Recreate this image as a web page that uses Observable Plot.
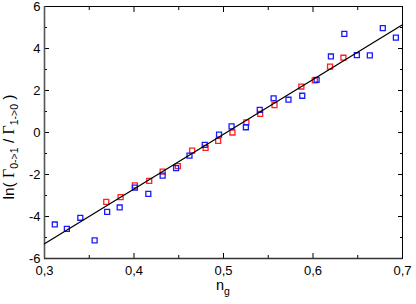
<!DOCTYPE html>
<html>
<head>
<meta charset="utf-8">
<script src="https://cdn.jsdelivr.net/npm/d3@7"></script>
<script src="https://cdn.jsdelivr.net/npm/@observablehq/plot@0.6"></script>
<style>
  html, body { margin: 0; padding: 0; background: #fff; }
</style>
</head>
<body>
<div id="chart"></div>
<script>
// ---- data ----
const blueNg = [0.3115, 0.325, 0.340, 0.356, 0.370, 0.384, 0.401, 0.416, 0.432, 0.447, 0.462, 0.479, 0.495, 0.509, 0.525, 0.5405, 0.556, 0.5726, 0.588, 0.604, 0.620, 0.635, 0.649, 0.6635, 0.678, 0.6926];
const blueLn = [-4.38, -4.59, -4.06, -5.14, -3.78, -3.57, -2.62, -2.92, -2.05, -1.70, -1.10, -0.59, -0.10, 0.29, 0.25, 1.08, 1.63, 1.56, 1.75, 2.51, 3.62, 4.70, 3.68, 3.67, 4.97, 4.52];
const redNg = [0.369, 0.385, 0.401, 0.417, 0.432, 0.449, 0.465, 0.480, 0.494, 0.510, 0.5256, 0.541, 0.557, 0.587, 0.602, 0.619, 0.634];
const redLn = [-3.30, -3.08, -2.52, -2.30, -1.86, -1.60, -0.86, -0.73, -0.40, 0.00, 0.48, 0.89, 1.30, 2.19, 2.48, 3.14, 3.56];
const fitNg = [0.3, 0.7];
const fitLn = [-5.30, 5.13];

const xMajor = [0.3, 0.4, 0.5, 0.6, 0.7];
const xMinor = [0.35, 0.45, 0.55, 0.65];
const yMajor = [-6, -4, -2, 0, 2, 4, 6];
const yMinor = [-5, -3, -1, 1, 3, 5];
const xDomain = [0.3, 0.7];
const yDomain = [-6, 6];

const xLabel = "n";
const xLabelSub = "g";

const blue = blueNg.map((x, i) => ({x, y: blueLn[i]}));
const red = redNg.map((x, i) => ({x, y: redLn[i]}));
const fit = fitNg.map((x, i) => ({x, y: fitLn[i]}));

const fmtX = d => d.toFixed(1).replace(".", ",");
const fmtY = d => String(d);
const blank = () => "";

const W = 416, H = 304;
const mL = 44, mR = 14, mT = 6, mB = 46;

const plot = Plot.plot({
  width: W,
  height: H,
  marginLeft: mL,
  marginRight: mR,
  marginTop: mT,
  marginBottom: mB,
  style: {fontFamily: "'Liberation Sans', Arial, sans-serif", fontSize: "13px", color: "#000", background: "#fff"},
  x: {domain: xDomain},
  y: {domain: yDomain},
  marks: [
    // inward ticks on all four sides
    Plot.axisX({anchor: "bottom", ticks: xMajor, tickSize: -5, tickFormat: blank, label: null}),
    Plot.axisX({anchor: "bottom", ticks: xMinor, tickSize: -3, tickFormat: blank, label: null}),
    Plot.axisX({anchor: "top", ticks: xMajor, tickSize: -5, tickFormat: blank, label: null}),
    Plot.axisX({anchor: "top", ticks: xMinor, tickSize: -3, tickFormat: blank, label: null}),
    Plot.axisY({anchor: "left", ticks: yMajor, tickSize: -5, tickFormat: blank, label: null}),
    Plot.axisY({anchor: "left", ticks: yMinor, tickSize: -3, tickFormat: blank, label: null}),
    Plot.axisY({anchor: "right", ticks: yMajor, tickSize: -5, tickFormat: blank, label: null}),
    Plot.axisY({anchor: "right", ticks: yMinor, tickSize: -3, tickFormat: blank, label: null}),
    // tick labels
    Plot.axisX({anchor: "bottom", ticks: xMajor, tickSize: 0, tickPadding: 7, tickFormat: fmtX, label: null, fill: "#000"}),
    Plot.axisY({anchor: "left", ticks: yMajor, tickSize: 0, tickPadding: 4, tickFormat: fmtY, label: null, fill: "#000"}),
    Plot.frame({stroke: "#000", strokeWidth: 1}),
    Plot.ruleX([xDomain[0]], {stroke: "#555", strokeWidth: 1.6}),
    Plot.ruleY([yDomain[0]], {stroke: "#333", strokeWidth: 1.4}),
    Plot.dot(red, {x: "x", y: "y", symbol: "square", r: 2.8, stroke: "#ff2020", strokeWidth: 1.3, fill: "none"}),
    Plot.dot(blue, {x: "x", y: "y", symbol: "square", r: 2.8, stroke: "#1a1aff", strokeWidth: 1.3, fill: "none"}),
    Plot.line(fit, {x: "x", y: "y", stroke: "#000", strokeWidth: 1.3})
  ]
});

document.getElementById("chart").appendChild(plot);

// axis titles as real text
const svg = d3.select(plot);
const xCenter = mL + (W - mL - mR) / 2;
const xt = svg.append("text")
  .attr("x", xCenter)
  .attr("y", 290)
  .attr("text-anchor", "middle")
  .style("font-family", "'Liberation Sans', Arial, sans-serif")
  .style("font-size", "14.5px")
  .attr("fill", "#000");
xt.append("tspan").text(xLabel);
xt.append("tspan").attr("dy", 5).style("font-size", "10.5px").text(xLabelSub);

const yt = svg.append("text")
  .attr("transform", `translate(14,147) rotate(-90)`)
  .attr("text-anchor", "middle")
  .style("font-family", "'Liberation Sans', Arial, sans-serif")
  .style("font-size", "15.5px")
  .attr("fill", "#000");
yt.append("tspan").text("ln( ");
yt.append("tspan").style("font-family", "'Liberation Serif', 'Times New Roman', serif").style("font-size", "16px").text("Γ");
yt.append("tspan").attr("dy", 4).style("font-size", "10.5px").text("0->1");
yt.append("tspan").attr("dy", -4).text(" / ");
yt.append("tspan").style("font-family", "'Liberation Serif', 'Times New Roman', serif").style("font-size", "16px").text("Γ");
yt.append("tspan").attr("dy", 4).style("font-size", "10.5px").text("1->0");
yt.append("tspan").attr("dy", -4).text(" )");
</script>
</body>
</html>
